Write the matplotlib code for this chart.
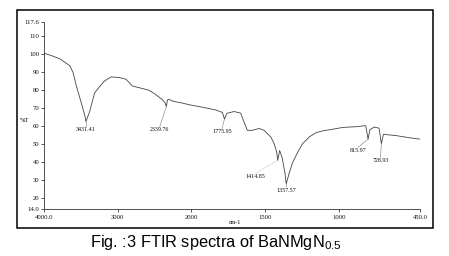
import numpy as np
import matplotlib
matplotlib.use("Agg")
import matplotlib.pyplot as plt
from matplotlib.patches import Rectangle

plt.rcParams['font.family'] = ['Liberation Serif', 'DejaVu Serif']
plt.rcParams['mathtext.fontset'] = 'custom'
plt.rcParams['mathtext.rm'] = 'Liberation Sans'

# spectrum (wavenumber cm-1, %T)
wavenumber = [4000, 3900, 3785, 3650, 3606, 3560, 3493, 3449, 3431, 3382, 3314, 3270,
              3180, 3089, 2977, 2888, 2799, 2709, 2575, 2485, 2396, 2360, 2340, 2326,
              2315, 2238, 2127, 2000, 1950, 1836, 1790, 1776, 1760, 1711, 1666, 1644,
              1621, 1587, 1541, 1507, 1461, 1439, 1422, 1415, 1402, 1385, 1366, 1357,
              1337, 1314, 1280, 1246, 1200, 1154, 1109, 1041, 973, 881, 818, 802,
              790, 760, 728, 712, 698, 607, 516, 450]
transmittance = [100.3, 99.0, 97.2, 93.4, 89.6, 82.0, 72.6, 66.1, 62.5, 67.8, 78.3, 80.6,
                 84.9, 87.2, 86.8, 85.9, 82.1, 81.2, 79.8, 77.4, 74.6, 73.0, 70.8, 74.3,
                 74.8, 73.6, 72.7, 71.5, 70.8, 68.9, 67.5, 63.8, 67.0, 68.0, 67.1, 62.3,
                 57.6, 57.6, 58.6, 57.6, 53.8, 50.1, 45.5, 41.0, 46.4, 42.5, 33.9, 28.0,
                 33.9, 39.7, 45.4, 50.2, 54.0, 56.3, 57.3, 58.2, 59.2, 59.6, 60.2, 52.7,
                 57.9, 59.4, 58.8, 50.2, 55.4, 54.6, 53.4, 52.7]

peak_names = ['3431.41', '2339.76', '1775.95', '1414.85', '1357.57', '815.97', '728.93']
peak_wn = [3431, 2340, 1776, 1415, 1357, 802, 712]
peak_t = [62.5, 70.8, 63.8, 41.0, 28.0, 52.7, 50.2]
# where each label sits
label_wn = [3431, 2430, 1793, 1565, 1355, 870, 718]
label_t = [57.8, 57.8, 56.8, 31.9, 24.5, 46.3, 40.8]

xtick_vals = [4000, 3000, 2000, 1500, 1000, 450]
xtick_text = ['4000.0', '3000', '2000', '1500', '1000', '450.0']
ytick_vals = [14.0, 20, 30, 40, 50, 60, 70, 80, 90, 100, 110, 117.6]
ytick_text = ['14.0', '20', '30', '40', '50', '60', '70', '80', '90', '100', '110', '117.6']


# FTIR axis: scale doubles below 2000 cm-1
def fwd(w):
    w = np.asarray(w, dtype=float)
    return np.where(w >= 2000, w, 2 * w - 2000)


def inv(u):
    u = np.asarray(u, dtype=float)
    return np.where(u >= 2000, u, (u + 2000) / 2)


W, H = 449, 256
fig = plt.figure(figsize=(W / 100, H / 100), dpi=100)
ax = fig.add_axes([44 / W, 1 - 209 / H, 376 / W, 187 / H])
ax.set_xscale('function', functions=(fwd, inv))

ax.plot(wavenumber, transmittance, color='#444444', lw=0.6)

for name, pw, pt, lw_, lt in zip(peak_names, peak_wn, peak_t, label_wn, label_t):
    ls = ':' if name == '1414.85' else '-'
    ax.plot([pw, lw_], [pt, lt + 1.8], color='#777777', lw=0.4, ls=ls)
    ax.text(lw_, lt, name, fontsize=4.3, ha='center', va='center', color='#111111')

ax.set_xlim(4000, 450)
ax.set_ylim(14.0, 117.6)
ax.set_xticks(xtick_vals)
ax.set_xticklabels(xtick_text)
ax.set_yticks(ytick_vals)
ax.set_yticklabels(ytick_text)
ax.tick_params(labelsize=4.8, length=2, width=0.5, pad=1.5, colors='#111111')
ax.tick_params(axis='x', pad=2.5)
ax.minorticks_off()
for s in ['top', 'right']:
    ax.spines[s].set_visible(False)
for s in ['left', 'bottom']:
    ax.spines[s].set_linewidth(0.6)
    ax.spines[s].set_color('#333333')

fig.text(20 / W, 1 - 120 / H, '%T', fontsize=4.6, ha='left', va='center')
fig.text(235 / W, 1 - 222 / H, 'cm-1', fontsize=4.3, ha='center', va='center')

fig.patches.append(Rectangle((17 / W, 1 - 228 / H), 416 / W, 218 / H,
                             transform=fig.transFigure, fill=False,
                             edgecolor='black', lw=1.1))

fig.text(216 / W, 1 - 242 / H, 'Fig. :3 FTIR spectra of BaNMgN$_{0.5}$',
         fontsize=11.8, family='Liberation Sans', ha='center', va='center')

fig.savefig('out.png', dpi=100)
